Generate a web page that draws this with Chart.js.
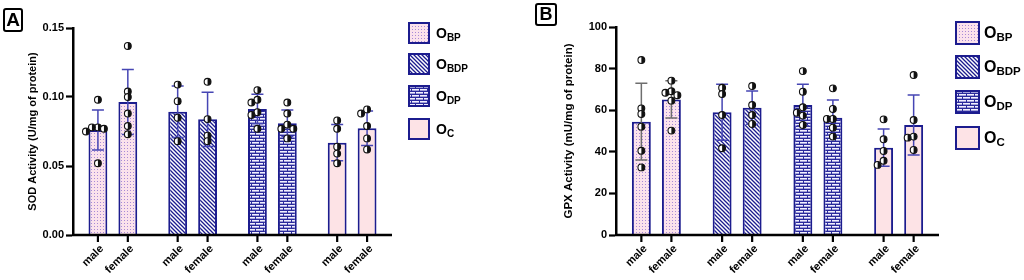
<!DOCTYPE html>
<html>
<head>
<meta charset="utf-8">
<script src="https://cdn.jsdelivr.net/npm/chart.js@4.4.1/dist/chart.umd.min.js"></script>
<style>
  body { margin: 0; background: #fff; font-family: 'Liberation Sans', Arial, sans-serif; }
  #wrap { position: relative; width: 1024px; height: 280px; overflow: hidden; }
  #wrap > canvas { position: absolute; top: 0; }
  .tag { position: absolute; border: 2px solid #000; border-radius: 3px; box-sizing: border-box;
         font-weight: bold; text-align: center; color: #000; }
  .legend { position: absolute; }
  .item { position: absolute; left: 0; display: flex; align-items: center; white-space: nowrap; }
  .item span.o { font-weight: bold; color: #000; }
  .item span.s { font-weight: bold; color: #000; position: relative; top: 3px; }
</style>
</head>
<body>
<div id="wrap">
  <canvas id="sodChart" width="510" height="280" style="left:0"></canvas>
  <canvas id="gpxChart" width="524" height="280" style="left:500px"></canvas>
  <div class="tag" style="left:3px;top:8px;width:20px;height:24px;font-size:19px;line-height:20px">A</div>
  <div class="tag" style="left:535px;top:3px;width:22px;height:23px;font-size:18px;line-height:19px">B</div>
  <div class="legend" id="legA" style="left:408px;top:22px"></div>
  <div class="legend" id="legB" style="left:955px;top:21px"></div>
</div>
<script>
// groups on the x axis, each split into male / female
const groups = ['OBP', 'OBDP', 'ODP', 'OC'];
const groupSubs = ['BP', 'BDP', 'DP', 'C'];
const sexes = ['male', 'female'];

// (A) SOD activity, U/mg of protein
const sodMale = [0.0761, 0.0893, 0.0913, 0.0669];
const sodFemale = [0.0964, 0.0838, 0.0810, 0.0773];
const sodMaleSd = [0.0145, 0.0187, 0.0107, 0.0131];
const sodFemaleSd = [0.0236, 0.0196, 0.0096, 0.0125];
const sodMalePoints = [
  [0.098, 0.078, 0.077, 0.078, 0.075, 0.052],
  [0.109, 0.097, 0.085, 0.068],
  [0.105, 0.098, 0.096, 0.089, 0.087, 0.077],
  [0.083, 0.077, 0.064, 0.059, 0.052]
];
const sodFemalePoints = [
  [0.137, 0.104, 0.100, 0.088, 0.079, 0.073],
  [0.111, 0.084, 0.072, 0.068],
  [0.096, 0.088, 0.080, 0.077, 0.077, 0.070],
  [0.091, 0.088, 0.079, 0.070, 0.062]
];
const sodTicks = [0, 0.05, 0.10, 0.15];

// (B) GPX activity, mU/mg of protein
const gpxMale = [54.5, 59.0, 62.5, 42.0];
const gpxFemale = [65.2, 61.2, 56.4, 52.9];
const gpxMaleSd = [18.4, 13.5, 10.0, 9.0];
const gpxFemaleSd = [9.0, 8.0, 8.5, 14.4];
const gpxMalePoints = [
  [84.1, 60.9, 58.2, 52.1, 40.5, 32.5],
  [70.8, 67.8, 57.7, 41.7],
  [78.8, 68.9, 61.4, 58.8, 57.4, 52.9],
  [55.6, 46.0, 40.4, 35.7, 33.7]
];
const gpxFemalePoints = [
  [74.2, 69.1, 68.4, 67.2, 64.6, 50.2],
  [71.6, 62.5, 57.7, 53.4],
  [70.5, 60.6, 55.8, 55.8, 51.6, 47.3],
  [76.9, 55.3, 47.3, 46.8, 40.9]
];
const gpxTicks = [0, 20, 40, 60, 80, 100];

const NAVY = '#1c1c8e';
const FONT = "'Liberation Sans', Arial, sans-serif";

function makePattern(kind) {
  const c = document.createElement('canvas');
  const g = c.getContext('2d');
  if (kind === 'dots') {
    c.width = 3; c.height = 3;
    g.fillStyle = '#fbe2ec'; g.fillRect(0, 0, 3, 3);
    g.fillStyle = '#a88ad6'; g.fillRect(1, 1, 1, 1);
  } else if (kind === 'diag') {
    c.width = 4; c.height = 4;
    g.fillStyle = '#fff'; g.fillRect(0, 0, 4, 4);
    g.strokeStyle = NAVY; g.lineWidth = 1.3;
    g.beginPath();
    g.moveTo(-1, -1); g.lineTo(5, 5);
    g.moveTo(-1, 3); g.lineTo(1, 5);
    g.moveTo(3, -1); g.lineTo(5, 1);
    g.stroke();
  } else if (kind === 'brick') {
    c.width = 8; c.height = 6;
    g.fillStyle = '#2a2a9c'; g.fillRect(0, 0, 8, 6);
    g.fillStyle = '#f2f0ff';
    g.fillRect(0, 1, 7, 1.6);
    g.fillRect(4, 4, 4, 1.6);
    g.fillRect(0, 4, 3, 1.6);
  } else {
    c.width = 2; c.height = 2;
    g.fillStyle = '#fde3e6'; g.fillRect(0, 0, 2, 2);
  }
  return g.createPattern(c, 'repeat');
}

const fills = ['dots', 'diag', 'brick', 'plain'].map(makePattern);

// spread dots sideways where they would overlap (prism-like scatter)
function swarm(ys, gap) {
  const order = ys.map((y, i) => i).sort((a, b) => ys[a] - ys[b]);
  const placed = [];
  const dx = new Array(ys.length).fill(0);
  const offs = [0, -6, 6, -12, 12];
  order.forEach(i => {
    for (const o of offs) {
      const ok = placed.every(p => Math.hypot(p.x - o, p.y - ys[i]) >= gap);
      if (ok) { dx[i] = o; placed.push({ x: o, y: ys[i] }); break; }
    }
  });
  return dx;
}

function drawDot(ctx, x, y, r) {
  ctx.beginPath(); ctx.arc(x, y, r, 0, Math.PI * 2);
  ctx.fillStyle = '#fff'; ctx.fill();
  ctx.beginPath(); ctx.arc(x, y, r, -Math.PI / 2, Math.PI / 2);
  ctx.closePath();
  ctx.fillStyle = '#111'; ctx.fill();
  ctx.beginPath(); ctx.arc(x, y, r, 0, Math.PI * 2);
  ctx.lineWidth = 1.1; ctx.strokeStyle = '#111'; ctx.stroke();
}

const extras = {
  id: 'extras',
  afterDatasetsDraw(chart, args, opts) {
    const ctx = chart.ctx;
    const yScale = chart.scales.y;
    ctx.save();
    chart.data.datasets.forEach((ds, i) => {
      chart.getDatasetMeta(i).data.forEach((bar, j) => {
        const mean = ds.data[j];
        const sd = opts.sd[i][j];
        const top = yScale.getPixelForValue(mean + sd);
        const low = yScale.getPixelForValue(mean - sd);
        ctx.strokeStyle = opts.errColors[j];
        ctx.lineWidth = 1.5;
        ctx.beginPath();
        ctx.moveTo(bar.x, low); ctx.lineTo(bar.x, top);
        ctx.moveTo(bar.x - 6, top); ctx.lineTo(bar.x + 6, top);
        ctx.moveTo(bar.x - 6, low); ctx.lineTo(bar.x + 6, low);
        ctx.stroke();

        const ys = opts.points[i][j].map(v => yScale.getPixelForValue(v));
        const dx = swarm(ys, 5.5);
        ys.forEach((py, k) => drawDot(ctx, bar.x + dx[k], py, 3.4));
      });
    });
    ctx.restore();
  },
  afterDraw(chart) {
    const ctx = chart.ctx;
    const area = chart.chartArea;
    ctx.save();
    ctx.strokeStyle = '#000';
    ctx.lineWidth = 2.5;
    ctx.beginPath();
    ctx.moveTo(area.left - 1, area.bottom); ctx.lineTo(area.right, area.bottom);
    ctx.stroke();
    ctx.fillStyle = '#000';
    ctx.font = 'bold 11px ' + FONT;
    ctx.textAlign = 'right';
    ctx.textBaseline = 'middle';
    chart.data.datasets.forEach((ds, i) => {
      chart.getDatasetMeta(i).data.forEach(bar => {
        ctx.lineWidth = 2.2;
        ctx.beginPath();
        ctx.moveTo(bar.x, area.bottom); ctx.lineTo(bar.x, area.bottom + 7);
        ctx.stroke();
        ctx.save();
        ctx.translate(bar.x + 4, area.bottom + 12);
        ctx.rotate(-Math.PI / 4);
        ctx.fillText(ds.label, 0, 0);
        ctx.restore();
      });
    });
    ctx.restore();
  }
};

function buildChart(id, cfg) {
  const datasets = sexes.map((sex, i) => ({
    label: sex,
    data: cfg.means[i],
    backgroundColor: fills,
    borderColor: NAVY,
    borderWidth: 2,
    categoryPercentage: cfg.catPct,
    barPercentage: 0.63
  }));
  return new Chart(document.getElementById(id), {
    type: 'bar',
    data: { labels: groups, datasets: datasets },
    plugins: [extras],
    options: {
      responsive: false,
      animation: false,
      layout: { padding: cfg.padding },
      plugins: {
        legend: { display: false },
        tooltip: { enabled: false },
        extras: { sd: cfg.sd, points: cfg.points, errColors: cfg.errColors }
      },
      scales: {
        x: {
          grid: { display: false },
          ticks: { display: false },
          border: { display: false },
          afterFit: s => { s.height = 0; }
        },
        y: {
          min: cfg.ticks[0],
          max: cfg.ticks[cfg.ticks.length - 1],
          afterBuildTicks: s => { s.ticks = cfg.ticks.map(v => ({ value: v })); },
          afterFit: s => { s.width = cfg.axisWidth; },
          grid: { drawOnChartArea: false, drawTicks: true, tickLength: 7, tickColor: '#000', tickWidth: 2.2 },
          border: { color: '#000', width: 2.5 },
          ticks: {
            padding: 2,
            color: '#000',
            font: { family: FONT, size: 11, weight: 'bold' },
            callback: v => cfg.fmt(v)
          },
          title: {
            display: true,
            text: cfg.title,
            color: '#000',
            padding: { top: cfg.titlePad, bottom: 0 },
            font: { family: FONT, size: cfg.titleSize, weight: 'bold' }
          }
        }
      }
    }
  });
}

buildChart('sodChart', {
  means: [sodMale, sodFemale],
  sd: [sodMaleSd, sodFemaleSd],
  points: [sodMalePoints, sodFemalePoints],
  ticks: sodTicks,
  fmt: v => v.toFixed(2),
  title: 'SOD Activity (U/mg of protein)',
  titleSize: 11,
  titlePad: 26,
  axisWidth: 73,
  catPct: 0.75,
  padding: { left: 0, top: 28, right: 118, bottom: 45 },
  errColors: ['#4646b4', '#4646b4', '#4646b4', '#4646b4']
});

buildChart('gpxChart', {
  means: [gpxMale, gpxFemale],
  sd: [gpxMaleSd, gpxFemaleSd],
  points: [gpxMalePoints, gpxFemalePoints],
  ticks: gpxTicks,
  fmt: v => String(v),
  title: 'GPX Activity (mU/mg of protein)',
  titleSize: 11.5,
  titlePad: 62,
  axisWidth: 116,
  catPct: 0.744,
  padding: { left: 0, top: 27, right: 85, bottom: 45 },
  errColors: ['#6e6e6e', '#4646b4', '#4646b4', '#4646b4']
});

// legends with subscripted labels
function buildLegend(id, size, tops, font, sub, gap) {
  const box = document.getElementById(id);
  groups.forEach((g, i) => {
    const item = document.createElement('div');
    item.className = 'item';
    item.style.top = tops[i] + 'px';
    const sw = document.createElement('canvas');
    sw.width = size[0]; sw.height = size[1];
    const c = sw.getContext('2d');
    c.fillStyle = fills[i];
    c.fillRect(0, 0, size[0], size[1]);
    c.strokeStyle = NAVY; c.lineWidth = 2;
    c.strokeRect(1, 1, size[0] - 2, size[1] - 2);
    item.appendChild(sw);
    const lab = document.createElement('span');
    lab.style.marginLeft = gap + 'px';
    lab.innerHTML = '<span class="o" style="font-size:' + font + 'px">O</span>' +
      '<span class="s" style="font-size:' + sub + 'px">' + groupSubs[i] + '</span>';
    item.appendChild(lab);
    box.appendChild(item);
  });
}

buildLegend('legA', [22, 22], [0, 31, 63, 96], 14, 10, 6);
buildLegend('legB', [25, 24], [0, 34, 69, 105], 16, 11.5, 4);
</script>
</body>
</html>
